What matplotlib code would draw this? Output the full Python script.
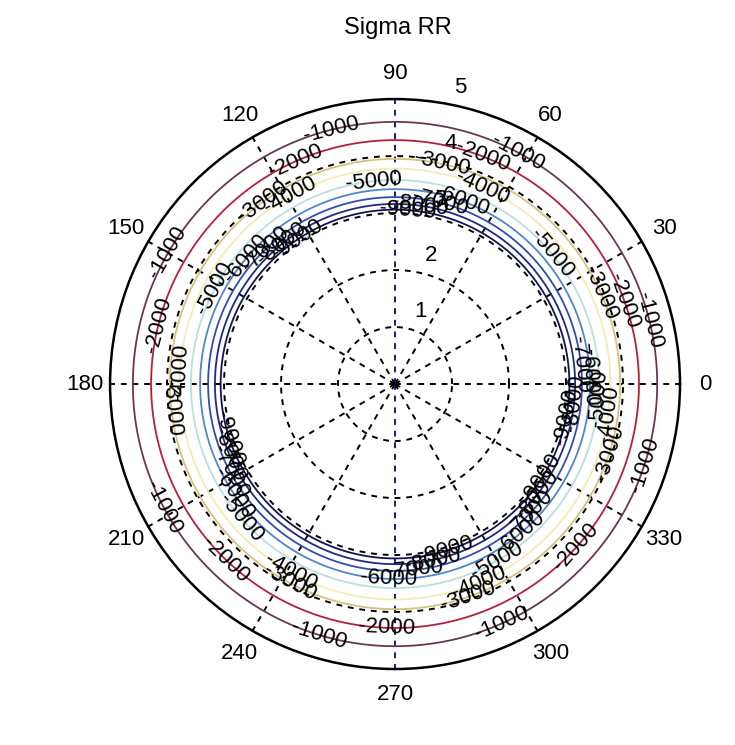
import numpy as np
import matplotlib
matplotlib.use("Agg")
import matplotlib.pyplot as plt

# contour levels of sigma_rr and the radius where each ring sits
levels = [-1000, -2000, -3000, -4000, -5000, -6000, -7000, -8000, -9000]
radii = [4.60, 4.28, 3.95, 3.78, 3.58, 3.42, 3.28, 3.16, 3.06]
level_colors = ["#6a3658", "#b4203c", "#d6c27a", "#f2ecb4", "#b9e0dc",
                "#4f86cc", "#2e4fae", "#1f2a84", "#121456"]

theta_ticks = [0, 30, 60, 90, 120, 150, 180, 210, 240, 270, 300, 330]
r_ticks = [1, 2, 3, 4, 5]

# where MATLAB's clabel dropped the text on each ring (degrees)
label_angles = {
    -1000: [14, 62, 104, 150, 208, 253, 294, 342],
    -2000: [20, 69, 114, 166, 226, 268, 318],
    -3000: [24, 78, 126, 186, 242, 289, 342],
    -4000: [66, 119, 177, 241, 293, 352],
    -5000: [40, 96, 152, 221, 300, 356],
    -6000: [70, 140, 214, 268, 310, 2],
    -7000: [76, 134, 208, 276, 316, 6],
    -8000: [82, 129, 203, 282, 322, 354],
    -9000: [86, 124, 198, 287, 327, 349],
}

plt.rcParams["font.family"] = ["Liberation Sans", "DejaVu Sans"]

fig = plt.figure(figsize=(7.35, 7.45), dpi=100)
ax = fig.add_axes([0.1497, 0.102, 0.7755, 0.765], projection="polar")

rmax = r_ticks[-1]
ax.set_ylim(0, rmax)
ax.set_xticks([])
ax.set_yticks([])
ax.grid(False)
ax.spines["polar"].set_linewidth(1.8)
ax.spines["polar"].set_color("black")

# dashed MATLAB-style grid
th = np.linspace(0, 2 * np.pi, 721)
for r in r_ticks[:-1]:
    ax.plot(th, np.full_like(th, r), color="black", lw=1.4,
            linestyle=(0, (3, 3)), zorder=1)
for t in theta_ticks:
    c = "#1a1a70" if t in (90, 270) else "black"
    ax.plot([np.deg2rad(t), np.deg2rad(t)], [0, rmax], color=c, lw=1.4,
            linestyle=(0, (3, 3)), zorder=1)

# contour rings
for lev, r, col in zip(levels, radii, level_colors):
    ax.plot(th, np.full_like(th, r), color=col, lw=1.3, zorder=2)

# contour labels, rotated along the ring
for lev, r in zip(levels, radii):
    for a in label_angles[lev]:
        rot = a - 90
        while rot > 90:
            rot -= 180
        while rot <= -90:
            rot += 180
        ax.text(np.deg2rad(a), r, str(lev), rotation=rot, rotation_mode="anchor",
                ha="center", va="center", fontsize=16, zorder=3)

# angle labels
for t in theta_ticks:
    ax.text(np.deg2rad(t), rmax * 1.09, str(t), ha="center", va="center",
            fontsize=16, clip_on=False)

# radius labels
for r in r_ticks:
    ax.annotate(str(r), xy=(np.deg2rad(80), r), xytext=(16, 16),
                textcoords="offset pixels", ha="center", va="center", fontsize=16)

fig.text(0.541, 0.962, "Sigma RR", ha="center", va="center", fontsize=17)

fig.savefig("out.png", dpi=100)
